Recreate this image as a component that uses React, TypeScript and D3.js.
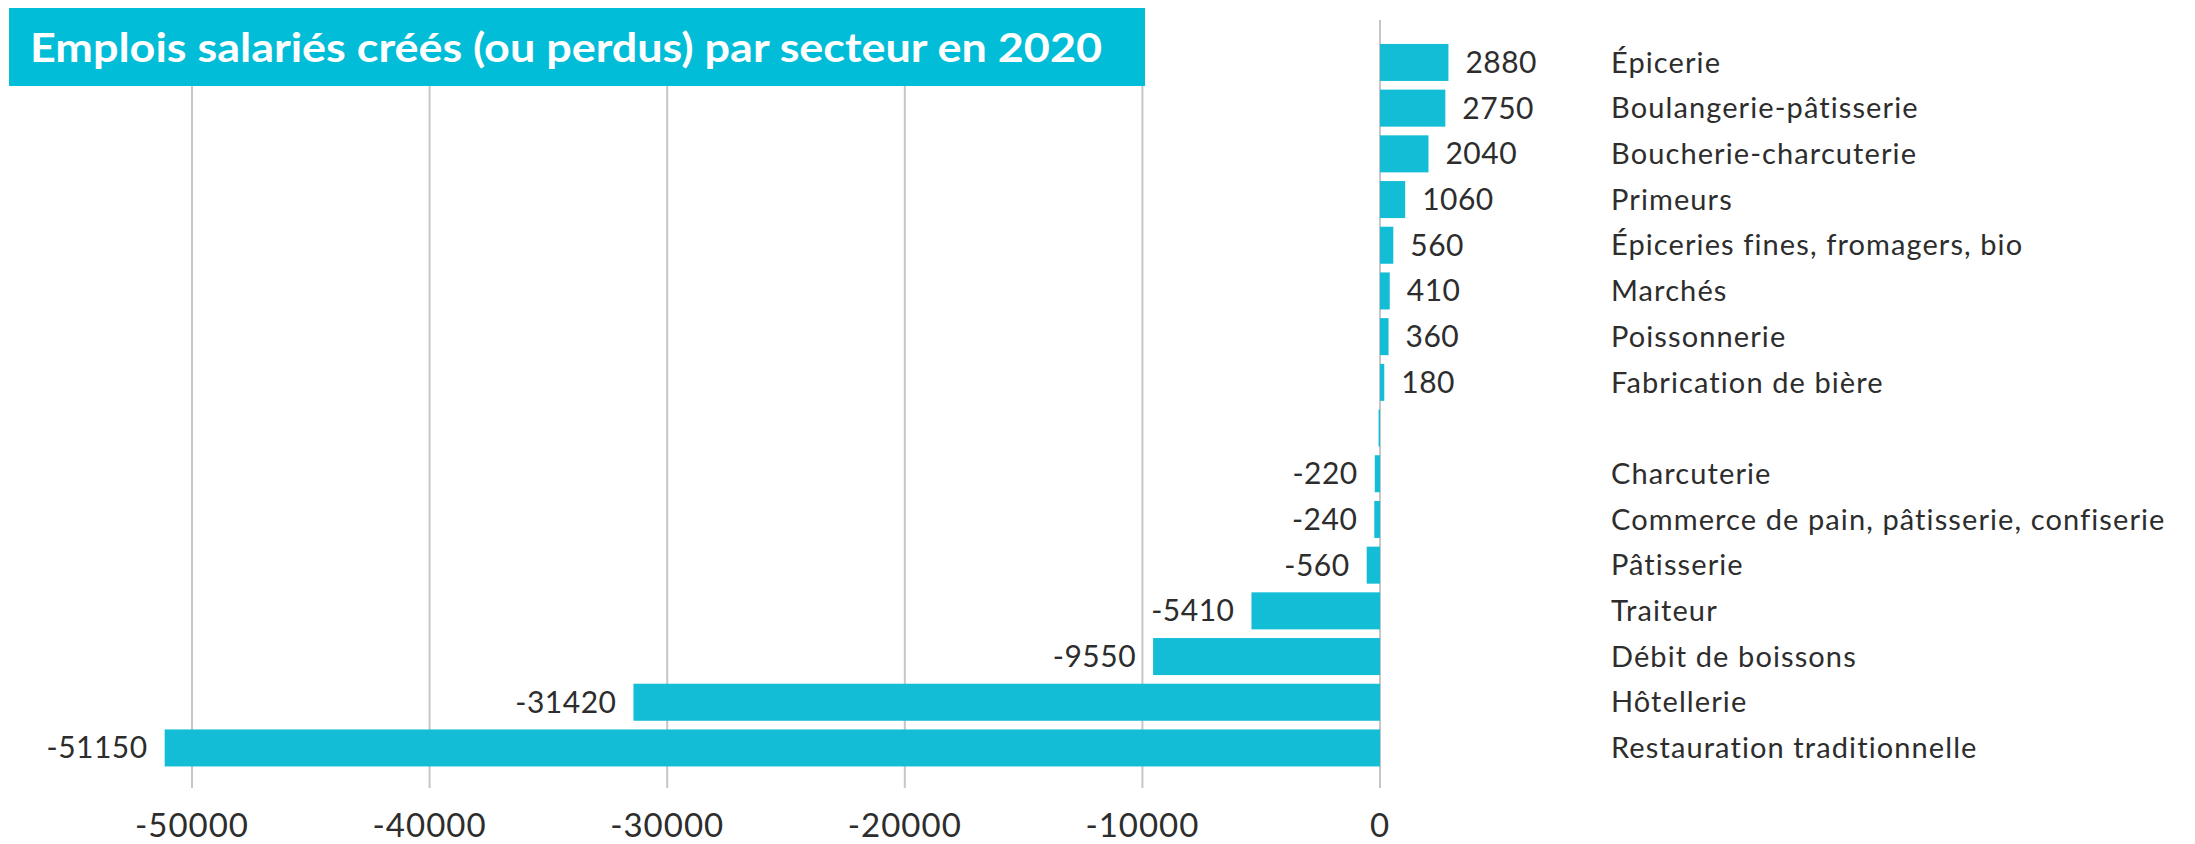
import React from "react";
import * as d3 from "d3";

const title = "Emplois salariés créés (ou perdus) par secteur en 2020";

const categories = [
  "Épicerie",
  "Boulangerie-pâtisserie",
  "Boucherie-charcuterie",
  "Primeurs",
  "Épiceries fines, fromagers, bio",
  "Marchés",
  "Poissonnerie",
  "Fabrication de bière",
  "",
  "Charcuterie",
  "Commerce de pain, pâtisserie, confiserie",
  "Pâtisserie",
  "Traiteur",
  "Débit de boissons",
  "Hôtellerie",
  "Restauration traditionnelle",
];

const values = [2880, 2750, 2040, 1060, 560, 410, 360, 180, -60, -220, -240, -560, -5410, -9550, -31420, -51150];

const valueLabels = ["2880", "2750", "2040", "1060", "560", "410", "360", "180", "", "-220", "-240", "-560", "-5410", "-9550", "-31420", "-51150"];

const xTicks = [-50000, -40000, -30000, -20000, -10000, 0];

const W = 2195;
const H = 844;
const BAR = "#13bdd6";
const TITLE_BG = "#01bdd7";
const GRID = "#c6c6c6";
const TEXT = "#2d2d2d";
const FONT = "Lato, 'Open Sans', sans-serif";

export default function App() {
  const x = d3.scaleLinear().domain([-50000, 0]).range([192, 1380]);
  const idx = d3.range(categories.length);
  const y = d3
    .scaleBand<number>()
    .domain(idx)
    .range([39.6, 39.6 + 16 * 45.7])
    .paddingInner(0.19)
    .paddingOuter(0.095);

  const gridTop = 20;
  const gridBottom = 788;

  return (
    <svg
      width={W}
      height={H}
      style={{ position: "absolute", left: 0, top: 0, background: "#fff", fontVariantLigatures: "none" }}
      fontFamily={FONT}
    >
      <rect x={0} y={0} width={W} height={H} fill="#fff" />
      {xTicks.map((t) => (
        <line
          key={"g" + t}
          x1={x(t)}
          x2={x(t)}
          y1={gridTop}
          y2={gridBottom}
          stroke={GRID}
          strokeWidth={2}
        />
      ))}
      {idx.map((i) => {
        const v = values[i];
        const x0 = Math.min(x(0), x(v));
        const w = Math.abs(x(v) - x(0));
        return (
          <rect
            key={"b" + i}
            x={x0}
            y={y(i)}
            width={w}
            height={y.bandwidth()}
            fill={BAR}
          />
        );
      })}
      {idx.map((i) => {
        const v = values[i];
        if (!valueLabels[i]) return null;
        const cy = (y(i) as number) + y.bandwidth() / 2;
        return (
          <text
            key={"v" + i}
            x={v >= 0 ? x(v) + 17 : x(v) - 17}
            y={cy}
            dy="0.35em"
            textAnchor={v >= 0 ? "start" : "end"}
            fontSize={30}
            letterSpacing={0.5}
            fill={TEXT}
          >
            {valueLabels[i]}
          </text>
        );
      })}
      {idx.map((i) => {
        const cy = (y(i) as number) + y.bandwidth() / 2;
        return (
          <text
            key={"c" + i}
            x={1611}
            y={cy}
            dy="0.35em"
            fontSize={29}
            letterSpacing={1.1}
            fill={TEXT}
          >
            {categories[i]}
          </text>
        );
      })}
      {xTicks.map((t) => (
        <text
          key={"t" + t}
          x={x(t)}
          y={825}
          dy="0.36em"
          textAnchor="middle"
          fontSize={33}
          letterSpacing={1}
          fill={TEXT}
        >
          {String(t)}
        </text>
      ))}
      <rect x={9} y={8} width={1136} height={78} fill={TITLE_BG} />
      <text
        x={30}
        y={62}
        fontSize={41}
        fontWeight={700}
        fill="#fff"
        textLength={1072}
        lengthAdjust="spacingAndGlyphs"
      >
        {title}
      </text>
    </svg>
  );
}
